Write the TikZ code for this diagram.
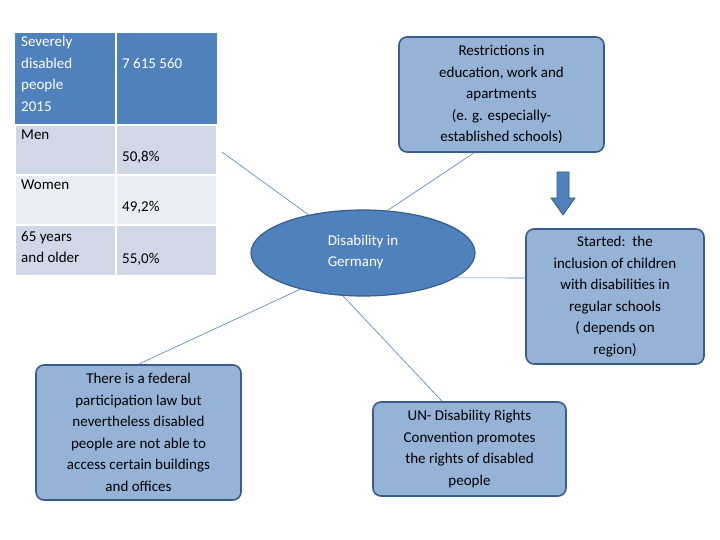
\documentclass[tikz,border=0pt]{standalone}
\usepackage{fontspec}
\setmainfont{Carlito}
\usetikzlibrary{shapes.geometric}
\definecolor{hb}{HTML}{4F81BD}
\definecolor{r1}{HTML}{D0D8E8}
\definecolor{r2}{HTML}{E9EDF4}
\definecolor{bx}{HTML}{95B3D7}
\definecolor{bd}{HTML}{385D8A}
\begin{document}
\begin{tikzpicture}[x=1pt,y=-1pt,
 cell/.style={draw=white,line width=1.5pt},
 tx/.style={inner sep=0,align=left,anchor=north west,font=\fontsize{15}{21.5}\selectfont},
 rbox/.style={draw=bd,line width=1.6pt,fill=bx,rounded corners=8pt},
 btx/.style={inner sep=0,align=center,font=\fontsize{15}{21.5}\selectfont},
 conn/.style={draw=hb,line width=0.6pt}]
\useasboundingbox (0,0) rectangle (720,540);
\fill[hb] (15,33) rectangle (217,125);
\filldraw[cell,fill=r1] (15,125) rectangle (116,175);
\filldraw[cell,fill=r1] (116,125) rectangle (217,175);
\filldraw[cell,fill=r2] (15,175) rectangle (116,225);
\filldraw[cell,fill=r2] (116,175) rectangle (217,225);
\filldraw[cell,fill=r1] (15,225) rectangle (116,276);
\filldraw[cell,fill=r1] (116,225) rectangle (217,276);
\draw[cell] (116,33) -- (116,125);
\node[tx,text=white] (h1) at (21,36) {Severely\\disabled\\people\\2015};
\node[tx,text=white] (h2) at (122,58) {7 615 560};
\node[tx] (m1) at (21,130) {Men};
\node[tx] (m2) at (122,151) {50,8\%};
\node[tx] (w1) at (21,180) {Women};
\node[tx] (w2) at (122,201) {49,2\%};
\node[tx] (o1) at (21,231) {65 years\\and older};
\node[tx] (o2) at (122,253) {55,0\%};
% connectors first
\coordinate (t1) at (222,152);
\coordinate (e1) at (313,218);
\draw[conn] (t1) -- (e1);
\node[draw=bd,line width=1.2pt,fill=hb,ellipse,minimum width=224,minimum height=86] (ell) at (363,253) {};
\node[btx,text=white,align=left] (el) at (363,252) {Disability in\\Germany};
\node[rbox,minimum width=205,minimum height=115] (top) at (501.5,94.5) {};
\node[btx] at (top) {Restrictions in\\education, work and\\apartments\\(e. g. especially-\\established schools)};
\node[rbox,minimum width=178,minimum height=135] (rt) at (615,296.5) {};
\node[btx] at (rt) {Started:\ \ the\\inclusion of children\\with disabilities in\\regular schools\\( depends on\\region)};
\node[rbox,minimum width=193,minimum height=94] (bt) at (469.5,449) {};
\node[btx] at (bt) {UN- Disability Rights\\Convention promotes\\the rights of disabled\\people};
\node[rbox,minimum width=205,minimum height=135] (lf) at (138.5,432.5) {};
\node[btx] at (lf) {There is a federal\\participation law but\\nevertheless disabled\\people are not able to\\access certain buildings\\and offices};
\draw[conn] (ell.60) -- (top.south -| 474,0);
\draw[conn] (ell.-15) -- (rt.west |- 0,278);
\draw[conn] (ell.-115) -- (bt.north -| 442,0);
\draw[conn] (ell.-150) -- (lf.north);
\fill[hb,draw=bd,line width=0.8pt] (557,172) -- (569,172) -- (569,198) -- (575,198) -- (563,215) -- (551,198) -- (557,198) -- cycle;
\end{tikzpicture}
\end{document}
